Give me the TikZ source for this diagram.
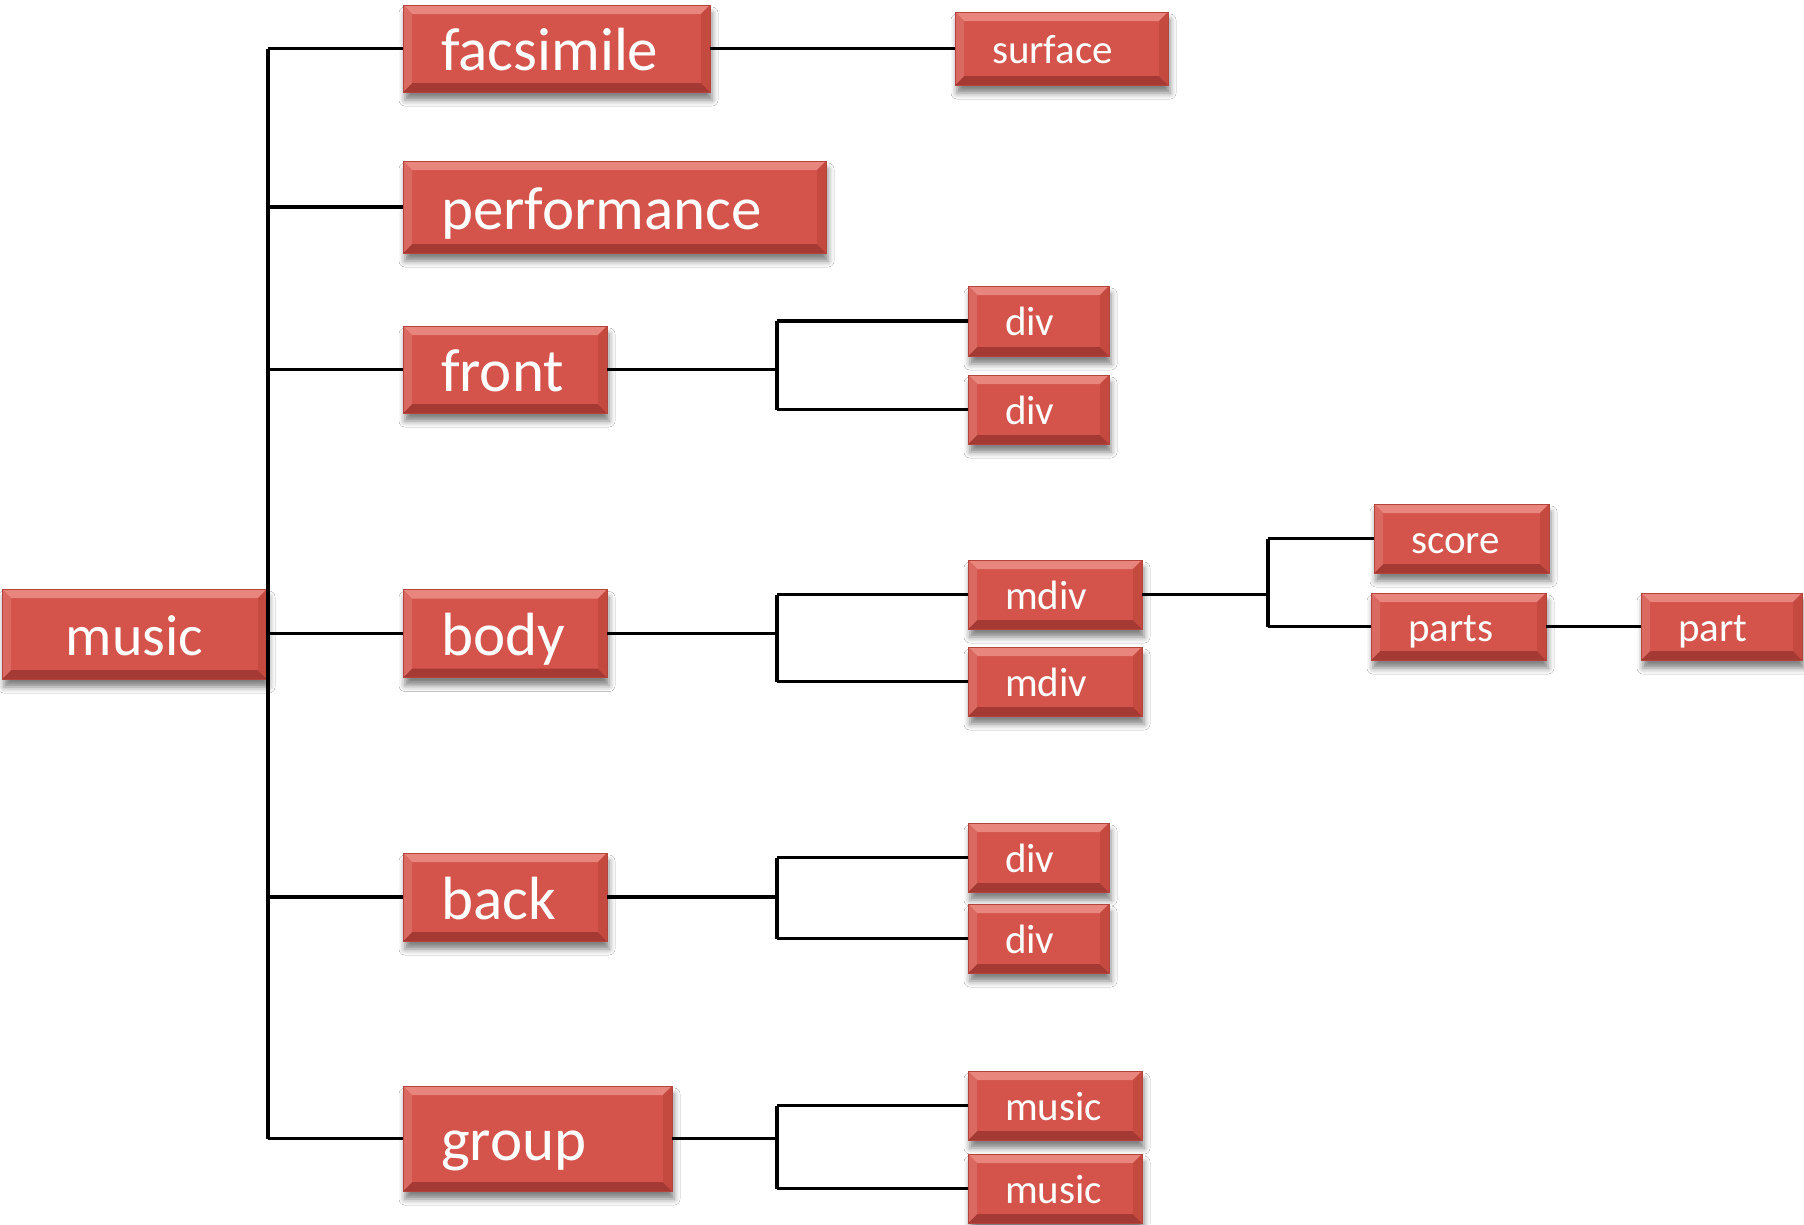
\documentclass[tikz,border=0pt]{standalone}
\usepackage{fontspec}
\setmainfont{Carlito}
\usetikzlibrary{shadows.blur}
\definecolor{boxred}{HTML}{D4534B}
\definecolor{boxedge}{HTML}{B4433C}
\definecolor{bevtop}{HTML}{E8857D}
\definecolor{bevbot}{HTML}{A53A34}
\definecolor{bevside}{HTML}{C4493F}
\definecolor{bevleft}{HTML}{DA6961}
\newcommand{\bigf}{\fontsize{61}{63}\selectfont}
\newcommand{\rootf}{\fontsize{58}{60}\selectfont}
\newcommand{\smallf}{\fontsize{41}{43}\selectfont}
\newcommand{\lt}[2]{\makebox[#1pt][l]{#2}}
\tikzset{
  box/.style={draw=boxedge, line width=0.8pt, fill=boxred, text=white,
    inner ysep=0pt,
    blur shadow={shadow xshift=2pt, shadow yshift=-8pt, shadow blur radius=6pt, shadow opacity=50},
    path picture={
      \fill[bevtop] (path picture bounding box.north west) -- (path picture bounding box.north east)
        -- ([xshift=-9pt,yshift=-9pt]path picture bounding box.north east)
        -- ([xshift=9pt,yshift=-9pt]path picture bounding box.north west) -- cycle;
      \fill[bevbot] (path picture bounding box.south west) -- (path picture bounding box.south east)
        -- ([xshift=-9pt,yshift=9pt]path picture bounding box.south east)
        -- ([xshift=9pt,yshift=9pt]path picture bounding box.south west) -- cycle;
      \fill[bevside] (path picture bounding box.north east) -- (path picture bounding box.south east)
        -- ([xshift=-9pt,yshift=9pt]path picture bounding box.south east)
        -- ([xshift=-9pt,yshift=-9pt]path picture bounding box.north east) -- cycle;
      \fill[bevleft] (path picture bounding box.north west) -- (path picture bounding box.south west)
        -- ([xshift=9pt,yshift=9pt]path picture bounding box.south west)
        -- ([xshift=9pt,yshift=-9pt]path picture bounding box.north west) -- cycle;
    }},
  bigbox/.style={box, font=\bigf, inner xsep=38pt, text height=50.7pt, text depth=6.3pt},
  smallbox/.style={box, font=\smallf, inner xsep=37pt, text height=33.7pt, text depth=4.6pt},
  rootbox/.style={box, font=\rootf, inner xsep=0pt, text height=48.6pt, text depth=5.6pt},
  conn/.style={draw=black, line width=3.2pt}
}
\begin{document}
\begin{tikzpicture}[x=1pt,y=1pt]
\useasboundingbox[fill=white] (0,0) rectangle (1804,-1224);
% trunk and branch x positions
\coordinate (t) at (268,0);
\coordinate (b) at (777,0);
\coordinate (c) at (1268,0);
% nodes
\node[rootbox, minimum width=265pt, minimum height=90pt] (music) at (134.5,-634) {music};
\node[bigbox, minimum height=87pt] (facs) at (556.5,-48.5) {\lt{231}{facsimile}};
\node[smallbox, minimum height=73pt] (surf) at (1061.5,-48.5) {\lt{139}{surface}};
\node[bigbox, minimum height=92pt] (perf) at (614.5,-207) {\lt{347}{performance}};
\node[bigbox, minimum height=87pt] (front) at (505,-369.5) {\lt{128}{front}};
\node[smallbox, minimum height=70pt] (div1) at (1038.5,-321) {\lt{67}{div}};
\node[smallbox, minimum height=69pt] (div2) at (1038.5,-409.5) {\lt{67}{div}};
\node[bigbox, minimum height=88pt] (body) at (505,-633.5) {\lt{128}{body}};
\node[smallbox, minimum height=69pt] (mdiv1) at (1055,-594.5) {\lt{100}{mdiv}};
\node[smallbox, minimum height=69pt] (mdiv2) at (1055,-681.5) {\lt{100}{mdiv}};
\node[smallbox, minimum height=69pt] (score) at (1461.5,-538.5) {\lt{101}{score}};
\node[smallbox, minimum height=67pt] (parts) at (1458.5,-626.5) {\lt{101}{parts}};
\node[smallbox, minimum height=67pt] (part) at (1721.5,-626.5) {\lt{87}{part}};
\node[bigbox, minimum height=88pt] (back) at (505,-897) {\lt{128}{back}};
\node[smallbox, minimum height=69pt] (div3) at (1038.5,-857.5) {\lt{67}{div}};
\node[smallbox, minimum height=69pt] (div4) at (1038.5,-938.5) {\lt{67}{div}};
\node[bigbox, minimum height=105pt] (group) at (537.5,-1138.5) {\lt{193}{group}};
\node[smallbox, minimum height=69pt] (mus2) at (1055,-1105.5) {\lt{100}{music}};
\node[smallbox, minimum height=69pt] (mus3) at (1055,-1188.5) {\lt{100}{music}};
% connectors
\draw[conn] (t |- facs.west) -- (t |- group.west);
\foreach \n in {facs,perf,front,body,back,group} \draw[conn] (t |- \n.west) -- (\n.west);
\draw[conn] (music.east) -- (t |- music.east);
\draw[conn] (facs.east) -- (surf.west);
% front
\draw[conn] (front.east) -- (b |- front.east);
\draw[conn] (b |- div1.west) -- (b |- div2.west);
\draw[conn] (b |- div1.west) -- (div1.west);
\draw[conn] (b |- div2.west) -- (div2.west);
% body
\draw[conn] (body.east) -- (b |- body.east);
\draw[conn] (b |- mdiv1.west) -- (b |- mdiv2.west);
\draw[conn] (b |- mdiv1.west) -- (mdiv1.west);
\draw[conn] (b |- mdiv2.west) -- (mdiv2.west);
% mdiv
\draw[conn] (mdiv1.east) -- (c |- mdiv1.east);
\draw[conn] (c |- score.west) -- (c |- parts.west);
\draw[conn] (c |- score.west) -- (score.west);
\draw[conn] (c |- parts.west) -- (parts.west);
\draw[conn] (parts.east) -- (part.west);
% back
\draw[conn] (back.east) -- (b |- back.east);
\draw[conn] (b |- div3.west) -- (b |- div4.west);
\draw[conn] (b |- div3.west) -- (div3.west);
\draw[conn] (b |- div4.west) -- (div4.west);
% group
\draw[conn] (group.east) -- (b |- group.east);
\draw[conn] (b |- mus2.west) -- (b |- mus3.west);
\draw[conn] (b |- mus2.west) -- (mus2.west);
\draw[conn] (b |- mus3.west) -- (mus3.west);
\end{tikzpicture}
\end{document}
